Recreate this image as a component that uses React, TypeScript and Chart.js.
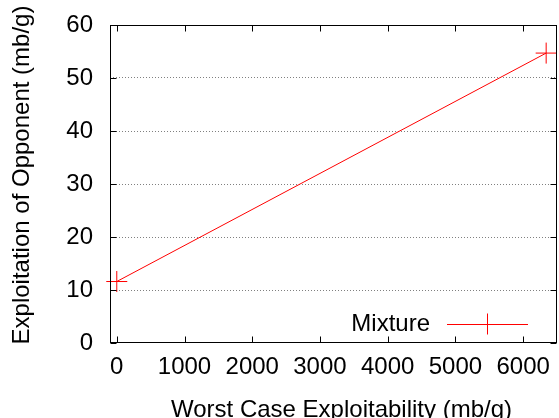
import React, { useEffect, useRef } from 'react';
import { Chart, registerables } from 'chart.js';

Chart.register(...registerables);

// ---- data ----
const seriesLabel = 'Mixture';
const worstCase = [0, 6340];
const exploitation = [11.6, 54.7];
const xTicks = [0, 1000, 2000, 3000, 4000, 5000, 6000];
const yTicks = [0, 10, 20, 30, 40, 50, 60];
const xTitle = 'Worst Case Exploitability (mb/g)';
const yTitle = 'Exploitation of Opponent (mb/g)';

const FONT = "'Liberation Sans', Arial, Helvetica, sans-serif";
const RED = '#ff0000';
const FONT_SIZE = 24;

const gnuplotLook = {
  id: 'gnuplotLook',
  afterDraw(chart: any) {
    const { ctx, chartArea, scales } = chart;
    const { left, right, top, bottom } = chartArea;
    const L = Math.round(left) + 0.5;
    const R = Math.round(right) - 0.5;
    const T = Math.round(top) + 0.5;
    const B = Math.round(bottom) - 0.5;
    ctx.save();
    // frame
    ctx.strokeStyle = '#000';
    ctx.lineWidth = 1;
    ctx.strokeRect(L, T, R - L, B - T);
    // inward ticks
    const tl = 6;
    ctx.beginPath();
    xTicks.forEach((v) => {
      const px = Math.round(scales.x.getPixelForValue(v)) + 0.5;
      ctx.moveTo(px, B);
      ctx.lineTo(px, B - tl);
      ctx.moveTo(px, T);
      ctx.lineTo(px, T + tl);
    });
    yTicks.forEach((v) => {
      const py = Math.round(scales.y.getPixelForValue(v)) + 0.5;
      ctx.moveTo(L, py);
      ctx.lineTo(L + tl, py);
      ctx.moveTo(R, py);
      ctx.lineTo(R - tl, py);
    });
    ctx.stroke();

    // axis titles
    ctx.fillStyle = '#000';
    ctx.font = `${FONT_SIZE}px ${FONT}`;
    ctx.textAlign = 'center';
    ctx.textBaseline = 'alphabetic';
    ctx.fillText(xTitle, (left + right) / 2 + 8, chart.height - 1);
    ctx.save();
    ctx.translate(29, (top + bottom) / 2 - 9);
    ctx.rotate(-Math.PI / 2);
    ctx.fillText(yTitle, 0, 0);
    ctx.restore();

    // legend (bottom right, inside plot)
    const ly = bottom - 19;
    ctx.textAlign = 'right';
    ctx.textBaseline = 'middle';
    ctx.fillText(seriesLabel, right - 127, ly);
    ctx.strokeStyle = RED;
    ctx.lineWidth = 1;
    ctx.beginPath();
    ctx.moveTo(right - 110, ly + 0.5);
    ctx.lineTo(right - 29, ly + 0.5);
    const cx = right - 70;
    const r = 10.5;
    ctx.moveTo(cx - r, ly + 0.5);
    ctx.lineTo(cx + r, ly + 0.5);
    ctx.moveTo(cx + 0.5, ly - r);
    ctx.lineTo(cx + 0.5, ly + r);
    ctx.stroke();
    ctx.restore();
  },
};

const zeroPadding = (axis: any) => {
  axis.paddingLeft = 0;
  axis.paddingRight = 0;
  axis.paddingTop = 0;
  axis.paddingBottom = 0;
};

export default function App() {
  const canvasRef = useRef<HTMLCanvasElement | null>(null);

  useEffect(() => {
    const canvas = canvasRef.current;
    if (!canvas) return;
    const chart = new Chart(canvas, {
      type: 'scatter',
      data: {
        datasets: [
          {
            label: seriesLabel,
            data: worstCase.map((x, i) => ({ x, y: exploitation[i] })),
            showLine: true,
            borderColor: RED,
            borderWidth: 1,
            pointStyle: 'cross',
            pointRadius: 10.5,
            pointHoverRadius: 10.5,
            pointBorderColor: RED,
            pointBorderWidth: 1,
            backgroundColor: RED,
            clip: false,
          } as any,
        ],
      },
      options: {
        animation: false,
        responsive: false,
        devicePixelRatio: 1,
        layout: { autoPadding: false, padding: { left: 0, right: 2, top: 25, bottom: 0 } },
        plugins: {
          legend: { display: false },
          tooltip: { enabled: false },
          title: { display: false },
        },
        events: [],
        scales: {
          x: {
            type: 'linear',
            min: -100,
            max: 6500,
            afterBuildTicks: (axis: any) => {
              axis.ticks = xTicks.map((value) => ({ value }));
            },
            afterFit: (axis: any) => {
              axis.height = 75;
              zeroPadding(axis);
            },
            grid: { display: false, drawTicks: false },
            border: { display: false },
            ticks: {
              color: '#000',
              padding: 10,
              maxRotation: 0,
              autoSkip: false,
              font: { family: FONT, size: FONT_SIZE },
              callback: (v: any) => String(v),
            },
          },
          y: {
            type: 'linear',
            min: 0,
            max: 60,
            afterBuildTicks: (axis: any) => {
              axis.ticks = yTicks.map((value) => ({ value }));
            },
            afterFit: (axis: any) => {
              axis.width = 110;
              zeroPadding(axis);
            },
            grid: {
              drawTicks: false,
              lineWidth: 1,
              color: (c: any) =>
                c.tick && (c.tick.value === yTicks[0] || c.tick.value === yTicks[yTicks.length - 1])
                  ? 'rgba(0,0,0,0)'
                  : '#808080',
            },
            border: { display: false, dash: [1, 2] },
            ticks: {
              color: '#000',
              padding: 17,
              autoSkip: false,
              font: { family: FONT, size: FONT_SIZE },
              callback: (v: any) => String(v),
            },
          },
        },
      },
      plugins: [gnuplotLook],
    });
    return () => chart.destroy();
  }, []);

  return (
    <div style={{ position: 'fixed', left: 0, top: 0, width: 559, height: 418, background: '#fff' }}>
      <canvas ref={canvasRef} width={559} height={418} style={{ display: 'block' }} />
    </div>
  );
}
